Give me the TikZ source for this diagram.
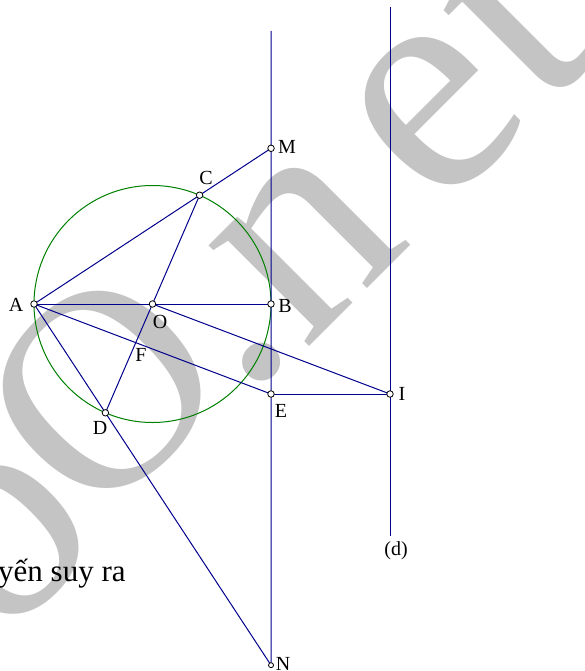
\documentclass[tikz,border=0pt]{standalone}
\usepackage{fontspec}
\setmainfont{Liberation Serif}
\definecolor{navy}{RGB}{0,0,140}
\definecolor{cgreen}{RGB}{0,128,0}
\begin{document}
\begin{tikzpicture}[x=1pt,y=-1pt,
  wm/.style={text=black!23, rotate=45, inner sep=0pt},
  seg/.style={draw=navy, line width=1pt},
  circ/.style={draw=cgreen, line width=1pt},
  pt/.style={circle, draw=black, fill=white, line width=0.8pt, minimum size=6.5pt, inner sep=0pt},
  ptsmall/.style={pt, minimum size=5pt},
  lbl/.style={font=\fontsize{20}{24}\selectfont, inner sep=0pt}]
\useasboundingbox (0,0) rectangle (584,671);
% watermark
\node[wm, font=\fontsize{310}{310}\selectfont] (wo) at (5,540) {o};
\node[wm, font=\fontsize{285}{285}\selectfont] (wO) at (103,390) {O};
\node[wm, font=\fontsize{320}{320}\selectfont] (wdot) at (262,362) {.};
\node[wm, font=\fontsize{310}{310}\selectfont] (wn) at (308,245) {n};
\node[wm, font=\fontsize{320}{320}\selectfont] (we) at (437,113) {e};
\node[wm, font=\fontsize{320}{320}\selectfont] (wt) at (510,18) {t};
% text
\node[anchor=base west, font=\fontsize{31}{36}\selectfont, inner sep=0pt] (txt) at (-2,581) {yến suy ra};
% points
\coordinate (O) at (152.5,304);
\coordinate (A) at (34,304);
\coordinate (B) at (271,304);
\coordinate (C) at (199.6,195.2);
\coordinate (D) at (105.4,412.8);
\coordinate (E) at (271,394);
\coordinate (I) at (390,394);
\coordinate (T) at (271,31);
\coordinate (dT) at (390,7);
\coordinate (dB) at (390,536);
\coordinate (M) at (intersection of A--C and B--E);
\coordinate (N) at (intersection of A--D and B--E);
\coordinate (F) at (intersection of A--E and C--D);
% circle
\draw[circ] (O) circle[radius=118.5pt];
% lines
\draw[seg] (T) -- (N);
\draw[seg] (dT) -- (dB);
\draw[seg] (A) -- (M);
\draw[seg] (A) -- (B);
\draw[seg] (A) -- (N);
\draw[seg] (A) -- (E);
\draw[seg] (C) -- (D);
\draw[seg] (O) -- (I);
\draw[seg] (E) -- (I);
% markers
\node[pt] (pA) at (A) {};
\node[pt] (pO) at (O) {};
\node[pt] (pB) at (B) {};
\node[pt] (pC) at (C) {};
\node[pt] (pD) at (D) {};
\node[pt] (pM) at (M) {};
\node[pt] (pE) at (E) {};
\node[pt] (pI) at (I) {};
\node[ptsmall] (pN) at (N) {};
% labels
\node[lbl] (lA) at (16,305) {A};
\node[lbl] (lO) at (160,322) {O};
\node[lbl] (lB) at (285,306) {B};
\node[lbl] (lC) at (206,178) {C};
\node[lbl] (lM) at (287,147) {M};
\node[lbl] (lF) at (141,355) {F};
\node[lbl] (lD) at (100,428) {D};
\node[lbl] (lE) at (281,411) {E};
\node[lbl] (lI) at (402,394) {I};
\node[lbl] (lN) at (283,664) {N};
\node[lbl] (ld) at (396,551) {(d)};
\end{tikzpicture}
\end{document}
